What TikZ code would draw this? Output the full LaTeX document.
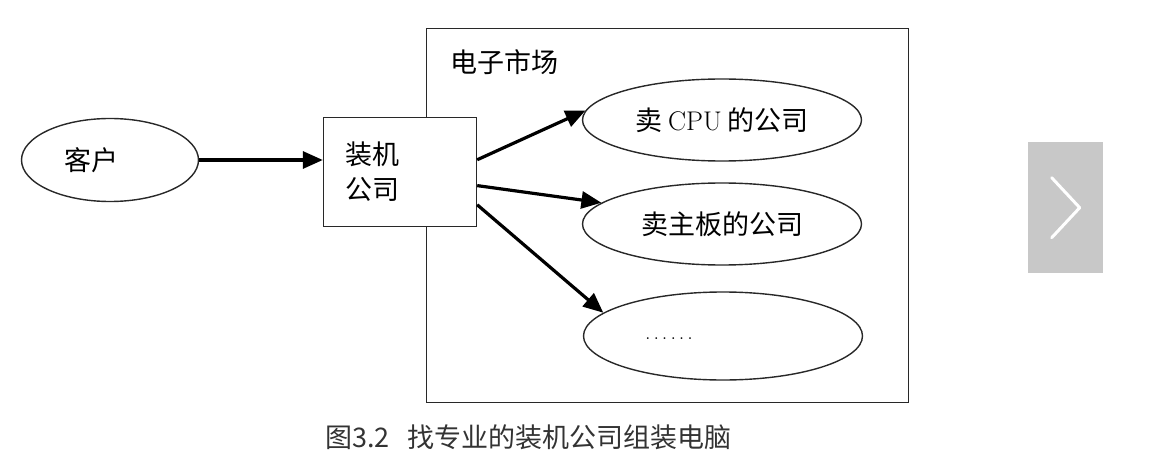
\documentclass[tikz,border=0pt]{standalone}
\usepackage{fontspec}
\newfontfamily\cjk{Noto Sans CJK SC}
\usepackage{tikz}
\usetikzlibrary{positioning,calc,arrows.meta,shapes.geometric}
\definecolor{framegray}{RGB}{40,40,40}
\definecolor{captiongray}{RGB}{51,51,51}
\definecolor{btngray}{RGB}{200,200,200}

\begin{document}
\begin{tikzpicture}[
      x=1pt, y=-1pt,
      font=\cjk\fontsize{27}{35}\selectfont,
      oval/.style={ellipse, draw=framegray, line width=1.4pt, inner sep=0pt,
                   minimum width=279pt, minimum height=82pt},
      firm/.style={draw=framegray, line width=1.4pt, inner sep=0pt},
      flow/.style={draw=black, line width=3.2pt,
                   -{Triangle[length=20pt, width=17pt]}}
    ]
    \useasboundingbox (0,0) rectangle (1172,465);

    % ---- market frame ----
    \node[firm, anchor=north west, minimum width=482pt, minimum height=374pt]
      (market) at (426,28) {};
    \node[anchor=west, inner sep=0pt] (title) at (450,62) {电子市场};

    % ---- customer and assembler ----
    \node[oval, minimum width=177pt, minimum height=83pt] (client) at (110,160) {客户\hspace*{38pt}};
    \node[firm, fill=white, minimum width=153pt, minimum height=109pt, text width=110pt, align=left]
      (assembler) at (400,172) {装机\\公司};

    % ---- vendors ----
    \node[oval] (cpu) at (722,120) {卖 {\rmfamily CPU} 的公司};
    \node[oval] (board) at (722,224) {卖主板的公司};
    \node[oval, minimum height=88pt] (etc) at (723,336)
      {\hspace*{-108pt}\raisebox{-7pt}{\rmfamily\fontsize{22}{22}\selectfont
       .\hspace{3pt}.\hspace{3pt}.\hspace{3pt}.\hspace{3pt}.\hspace{3pt}.}};

    % ---- arrows ----
    \draw[flow] (client.east) -- (client.east -| assembler.west);
    \draw[flow] (assembler.9) -- (cpu.176);
    \draw[flow] (assembler.-10) -- (board.170);
    \draw[flow] (assembler.-23) -- (etc.169);

    % ---- caption ----
    \node[text=captiongray, font=\cjk\fontsize{27}{30}\selectfont, anchor=west, inner sep=0pt]
      (caption) at (325,437) {图3.2\hspace{18pt}找专业的装机公司组装电脑};

    % ---- next button ----
    \node[fill=btngray, anchor=north west, minimum width=75pt, minimum height=131pt, inner sep=0pt]
      (nextbtn) at (1028,142) {};
    \draw[white, line width=3pt, line cap=round, line join=round]
      ($(nextbtn.center)+(-14,-30)$) -- ($(nextbtn.center)+(14,0)$) -- ($(nextbtn.center)+(-14,30)$);
  \end{tikzpicture}
\end{document}
